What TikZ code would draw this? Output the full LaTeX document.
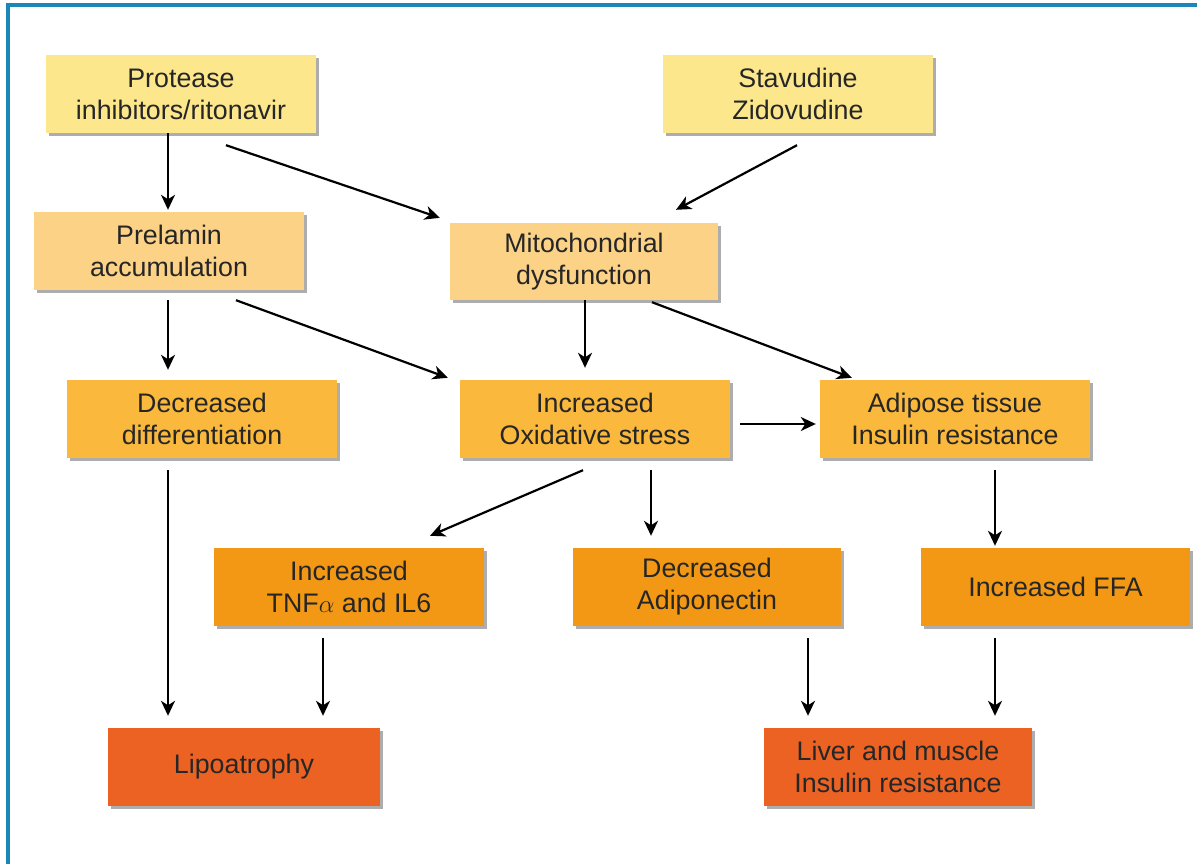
\documentclass[tikz,border=0pt]{standalone}
\usepackage{fontspec}
\setmainfont{Liberation Sans}
\usetikzlibrary{arrows.meta,shadows}
\definecolor{cYel}{HTML}{FCE78C}
\definecolor{cPeach}{HTML}{FCD287}
\definecolor{cOrY}{HTML}{FAB83C}
\definecolor{cOr}{HTML}{F39814}
\definecolor{cRed}{HTML}{EB6223}
\definecolor{cFrame}{HTML}{1A87B8}
\definecolor{cTxt}{HTML}{262626}
\tikzset{
  box/.style={rectangle, minimum width=270pt, minimum height=78pt, inner sep=0pt,
    align=center, text=cTxt,
    font=\fontsize{26.8pt}{32pt}\selectfont,
    drop shadow={shadow xshift=3pt, shadow yshift=-3pt, fill=black!32, opacity=1}},
  lvA/.style={box, fill=cYel},
  lvB/.style={box, fill=cPeach},
  lvC/.style={box, fill=cOrY},
  lvD/.style={box, fill=cOr},
  lvE/.style={box, fill=cRed},
  arr/.style={line width=2.2pt, black, -{Stealth[length=15pt,width=14pt,inset=4.5pt]}},
  frameline/.style={line width=3.5pt, cFrame}
}
\begin{document}
\begin{tikzpicture}[x=1pt,y=-1pt]
\useasboundingbox (0,0) rectangle (1197,864);
\fill[white] (0,0) rectangle (1197,864);
\coordinate (fa) at (8,864);
\coordinate (fb) at (8,5);
\coordinate (fc) at (1197,5);
\draw[frameline] (fa) -- (fb) -- (fc);

\node[lvA] (pi)  at (181,94)  {Protease\\inhibitors/ritonavir};
\node[lvA] (sz)  at (798,94)  {Stavudine\\Zidovudine};
\node[lvB] (pre) at (169,251) {Prelamin\\accumulation};
\node[lvB, minimum width=268pt, minimum height=77pt] (mit) at (584,261.5) {Mitochondrial\\dysfunction};
\node[lvC] (dd)  at (202,419) {Decreased\\differentiation};
\node[lvC] (ox)  at (595,419) {Increased\\Oxidative stress};
\node[lvC] (at)  at (955,419) {Adipose tissue\\Insulin resistance};
\node[lvD] (tnf) at (349,587) {Increased\\TNF$\alpha$ and IL6};
\node[lvD, minimum width=268pt] (adp) at (707,587) {Decreased\\Adiponectin};
\node[lvD, minimum width=269pt] (ffa) at (1055.5,587) {Increased FFA};
\node[lvE, minimum width=272pt] (lip) at (244,767) {Lipoatrophy};
\node[lvE, minimum width=268pt] (liv) at (898,767) {Liver and muscle\\Insulin resistance};

\draw[arr] ([xshift=-13pt]pi.south) -- ([xshift=-1pt,yshift=2pt]pre.north);
\draw[arr] ([xshift=45pt,yshift=-12pt]pi.south) -- ([xshift=-10pt,yshift=5pt]mit.north west);
\draw[arr] ([xshift=-1pt,yshift=-12pt]sz.south) -- ([xshift=92pt,yshift=13pt]mit.north);
\draw[arr] ([xshift=-1pt,yshift=-10pt]pre.south) -- ([xshift=-34pt,yshift=10pt]dd.north);
\draw[arr] ([xshift=67pt,yshift=-10pt]pre.south) -- ([xshift=-12pt,yshift=2pt]ox.north west);
\draw[arr] ([xshift=1pt]mit.south) -- ([xshift=-10pt,yshift=12pt]ox.north);
\draw[arr] ([xshift=68pt,yshift=-2pt]mit.south) -- ([xshift=32pt,yshift=2pt]at.north west);
\draw[arr] ([xshift=10pt,yshift=-5pt]ox.east) -- ([xshift=-4pt,yshift=-5pt]at.west);
\draw[arr] ([xshift=-12pt,yshift=-12pt]ox.south) -- ([xshift=81pt,yshift=12pt]tnf.north);
\draw[arr] ([xshift=56pt,yshift=-12pt]ox.south) -- ([xshift=-56pt,yshift=12pt]adp.north);
\draw[arr] ([xshift=40pt,yshift=-12pt]at.south) -- ([xshift=-60.5pt,yshift=2pt]ffa.north);
\draw[arr] ([xshift=-34pt,yshift=-12pt]dd.south) -- ([xshift=-76pt,yshift=12pt]lip.north);
\draw[arr] ([xshift=-26pt,yshift=-12pt]tnf.south) -- ([xshift=79pt,yshift=12pt]lip.north);
\draw[arr] ([xshift=101pt,yshift=-12pt]adp.south) -- ([xshift=-90pt,yshift=12pt]liv.north);
\draw[arr] ([xshift=-60.5pt,yshift=-12pt]ffa.south) -- ([xshift=97pt,yshift=12pt]liv.north);
\end{tikzpicture}
\end{document}
